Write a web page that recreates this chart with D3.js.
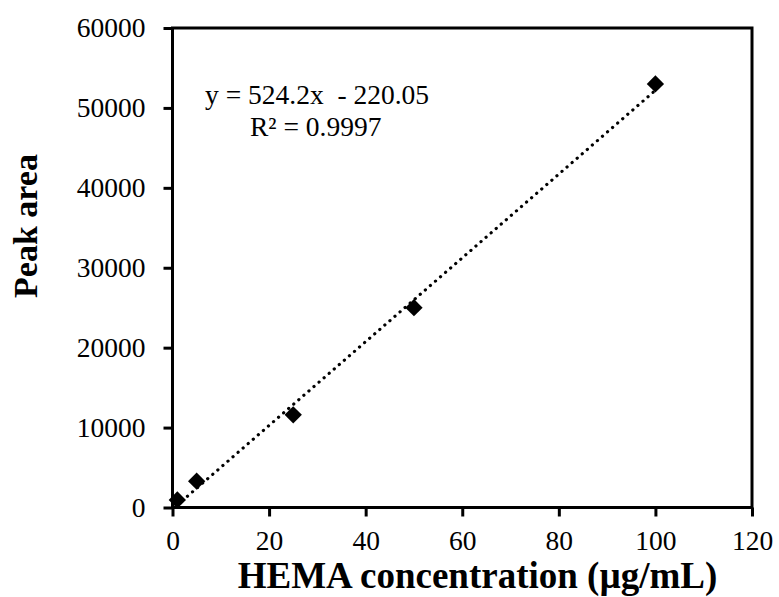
<!DOCTYPE html>
<html>
<head>
<meta charset="utf-8">
<script src="https://cdn.jsdelivr.net/npm/d3@7"></script>
<style>
  html, body { margin: 0; padding: 0; background: #fff; }
  svg { display: block; }
  text { font-family: "Liberation Serif", "Times New Roman", serif; fill: #000; }
</style>
</head>
<body>
<svg id="chart" width="779" height="597"></svg>
<script>
// Calibration data: HEMA concentration (µg/mL) vs. peak area
const concentrations = [1, 5, 25, 50, 100];
const peakAreas = [950, 3300, 11600, 25000, 53000];
const xTicks = [0, 20, 40, 60, 80, 100, 120];
const yTicks = [0, 10000, 20000, 30000, 40000, 50000, 60000];
const fitSlope = 524.2;
const fitIntercept = -220.05;
const equationLines = ["y = 524.2x  - 220.05", "R² = 0.9997"];

const svg = d3.select("#chart");
const m = { left: 172.5, top: 28, right: 752, bottom: 507.5 };

const x = d3.scaleLinear().domain([0, 120]).range([m.left, m.right]);
const y = d3.scaleLinear().domain([0, 60000]).range([m.bottom, m.top]);

// Frame
svg.append("rect")
  .attr("x", m.left).attr("y", m.top)
  .attr("width", m.right - m.left).attr("height", m.bottom - m.top)
  .attr("fill", "none").attr("stroke", "#000").attr("stroke-width", 3);

// Axes
const xAxis = svg.append("g")
  .attr("transform", `translate(0,${m.bottom})`)
  .call(d3.axisBottom(x).tickValues(xTicks).tickSize(9).tickFormat(d3.format("d")));
const yAxis = svg.append("g")
  .attr("transform", `translate(${m.left},0)`)
  .call(d3.axisLeft(y).tickValues(yTicks).tickSize(9).tickPadding(18).tickFormat(d3.format("d")));

[xAxis, yAxis].forEach(g => {
  g.select(".domain").remove();
  g.selectAll(".tick line").attr("stroke", "#000").attr("stroke-width", 3);
  g.selectAll(".tick text")
    .attr("font-family", "Liberation Serif, Times New Roman, serif")
    .attr("font-size", 27.5).attr("fill", "#000");
});
xAxis.selectAll(".tick text").attr("y", 42.5).attr("dy", null);

// Linear fit (dotted)
const fitX = [d3.min(concentrations), d3.max(concentrations)];
svg.append("line")
  .attr("x1", x(fitX[0])).attr("y1", y(fitSlope * fitX[0] + fitIntercept))
  .attr("x2", x(fitX[1])).attr("y2", y(fitSlope * fitX[1] + fitIntercept))
  .attr("stroke", "#000").attr("stroke-width", 3.2)
  .attr("stroke-linecap", "round").attr("stroke-dasharray", "0.1 6.6");

// Data markers (diamonds)
const diamond = d3.symbol().type(d3.symbolSquare).size(150);
svg.append("g").selectAll("path")
  .data(concentrations.map((c, i) => [c, peakAreas[i]]))
  .join("path")
  .attr("d", diamond)
  .attr("transform", d => `translate(${x(d[0])},${y(d[1])}) rotate(45)`)
  .attr("fill", "#000");

// Regression equation
const eq = svg.append("text").attr("font-size", 27.5);
eq.append("tspan").attr("x", 205).attr("y", 103.5).attr("xml:space", "preserve").text(equationLines[0]);
eq.append("tspan").attr("x", 250).attr("y", 135.5).text(equationLines[1]);

// Axis titles
svg.append("text")
  .attr("x", 477.5).attr("y", 588)
  .attr("text-anchor", "middle")
  .attr("font-size", 37).attr("font-weight", "bold")
  .text("HEMA concentration (µg/mL)");

svg.append("text")
  .attr("transform", "translate(37,226) rotate(-90)")
  .attr("text-anchor", "middle")
  .attr("font-size", 34).attr("font-weight", "bold")
  .text("Peak area");
</script>
</body>
</html>
